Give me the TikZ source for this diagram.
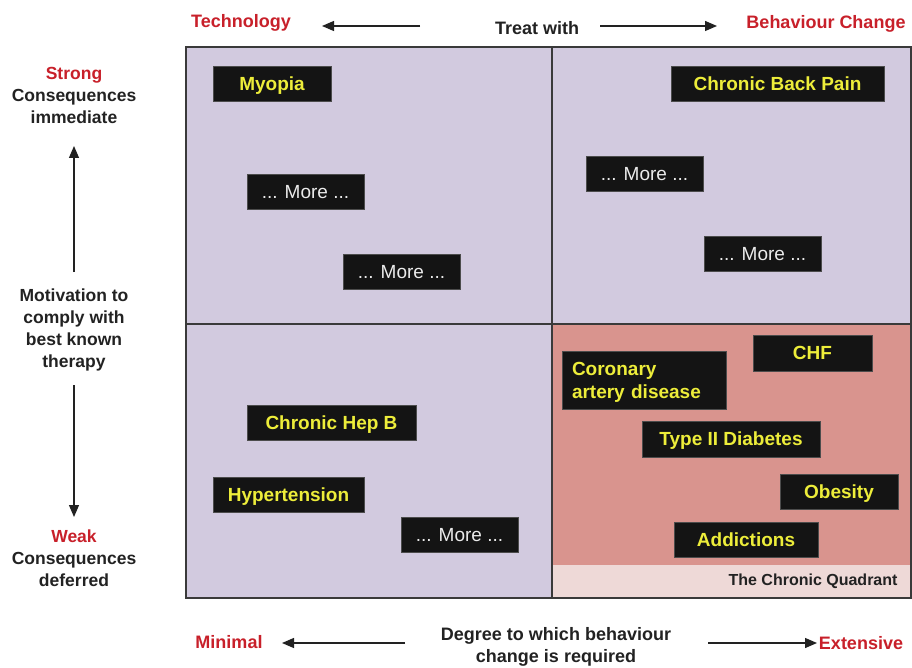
\documentclass[tikz,border=0pt]{standalone}
\usepackage{fontspec}
\setmainfont{Liberation Sans}
\usetikzlibrary{arrows.meta}
\definecolor{lav}{HTML}{D2CADF}
\definecolor{pinkq}{HTML}{D9948E}
\definecolor{bandq}{HTML}{EED9D7}
\definecolor{redl}{HTML}{C8202A}
\definecolor{yel}{HTML}{EDED3A}
\definecolor{txt}{HTML}{222222}
\definecolor{frame}{HTML}{3A3A3A}
\tikzset{
  box/.style={fill=black!92, draw=black!70, line width=0.6pt, inner sep=0pt, text height=13.5pt, text depth=0pt, font=\fontsize{19}{22}\selectfont\bfseries, text=yel},
  morebox/.style={box, font=\fontsize{19}{22}\selectfont, text=white!92!black},
  redlab/.style={text=redl, font=\fontsize{18}{21}\selectfont\bfseries},
  axlab/.style={text=txt, font=\fontsize{17.5}{22}\selectfont\bfseries, align=center},
  axarrow/.style={line width=1.3pt, draw=txt, -{Triangle[length=12pt,width=10pt]}}
}
\begin{document}
\begin{tikzpicture}[x=1pt,y=-1pt]
\useasboundingbox (0,0) rectangle (912,668);
\fill[white] (0,0) rectangle (912,668);
% quadrants
\fill[lav] (186,47) rectangle (911,598);
\fill[pinkq] (552,324) rectangle (911,598);
\fill[bandq] (552,565) rectangle (911,598);
\draw[frame, line width=1.3pt] (186,47) rectangle (911,598);
\draw[frame, line width=1.3pt] (552,47) -- (552,598);
\draw[frame, line width=1.3pt] (186,324) -- (911,324);
\node[anchor=east, text=txt, font=\fontsize{16}{18}\selectfont\bfseries] (cq) at (901,581) {The Chronic Quadrant};
% boxes
\node[box, minimum width=118pt, minimum height=35pt] (myopia) at (272,83.5) {Myopia};
\node[morebox, minimum width=117pt, minimum height=35pt] (m1) at (305.5,191.5) {... More ...};
\node[morebox, minimum width=117pt, minimum height=35pt] (m2) at (401.5,271.5) {... More ...};
\node[box, minimum width=213pt, minimum height=35pt] (cbp) at (777.5,83.5) {Chronic Back Pain};
\node[morebox, minimum width=117pt, minimum height=35pt] (m3) at (644.5,173.5) {... More ...};
\node[morebox, minimum width=117pt, minimum height=35pt] (m4) at (762.5,253.5) {... More ...};
\node[box, minimum width=169pt, minimum height=35pt] (hepb) at (331.5,422.5) {Chronic Hep B};
\node[box, minimum width=151pt, minimum height=35pt] (htn) at (288.5,494.5) {Hypertension};
\node[morebox, minimum width=117pt, minimum height=35pt] (m5) at (459.5,534.5) {... More ...};
\node[box, minimum width=164pt, minimum height=58pt, align=left, text width=144pt, inner xsep=10pt, text height=13.5pt, text depth=23pt, font=\fontsize{19}{23}\selectfont\bfseries] (cad) at (644,380) {Coronary\\artery disease};
\node[box, minimum width=119pt, minimum height=36pt] (chf) at (812.5,353) {CHF};
\node[box, minimum width=178pt, minimum height=36pt] (t2d) at (731,439) {Type II Diabetes};
\node[box, minimum width=118pt, minimum height=35pt] (obe) at (839,491.5) {Obesity};
\node[box, minimum width=144pt, minimum height=35pt] (add) at (746,539.5) {Addictions};
% top axis
\node[redlab] (tech) at (241,23) {Technology};
\node[axlab, font=\fontsize{18}{22}\selectfont\bfseries] (treat) at (537,28) {Treat with};
\node[redlab] (bc) at (826,24) {Behaviour Change};
\coordinate (tl) at (322,26);
\coordinate (tr) at (717,26);
\coordinate (tls) at (420,26);
\coordinate (trs) at (600,26);
\draw[axarrow] (tls) -- (tl);
\draw[axarrow] (trs) -- (tr);
% left axis
\node[axlab] (strong) at (74,95) {\textcolor{redl}{Strong}\\Consequences\\immediate};
\node[axlab] (motiv) at (74,330) {Motivation to\\comply with\\best known\\therapy};
\node[axlab] (weak) at (74,558) {\textcolor{redl}{Weak}\\Consequences\\deferred};
\coordinate (us) at (74,272);
\coordinate (ue) at (74,146);
\coordinate (ds) at (74,385);
\coordinate (de) at (74,517);
\draw[axarrow] (us) -- (ue);
\draw[axarrow] (ds) -- (de);
% bottom axis
\node[redlab] (minimal) at (229,642) {Minimal};
\node[axlab, font=\fontsize{18}{22}\selectfont\bfseries] (degree) at (556,647) {Degree to which behaviour\\change is required};
\node[redlab] (ext) at (861,643) {Extensive};
\coordinate (bls) at (405,643);
\coordinate (ble) at (282,643);
\coordinate (brs) at (708,643);
\coordinate (bre) at (817,643);
\draw[axarrow] (bls) -- (ble);
\draw[axarrow] (brs) -- (bre);
\end{tikzpicture}
\end{document}
